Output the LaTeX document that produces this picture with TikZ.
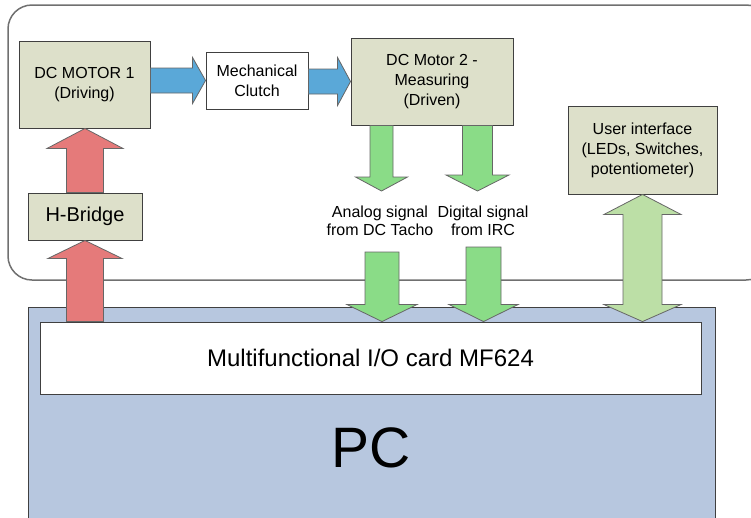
\documentclass[tikz,border=0pt]{standalone}
\usepackage{fontspec}
\setmainfont{Liberation Sans}
\usetikzlibrary{calc}
\definecolor{boxfill}{HTML}{DDE0CA}
\definecolor{boxline}{HTML}{404040}
\definecolor{pcfill}{HTML}{B7C7DF}
\definecolor{framec}{HTML}{707070}
\definecolor{redA}{HTML}{E57A7A}
\definecolor{blueA}{HTML}{5AA8D8}
\definecolor{greenA}{HTML}{8ADC87}
\definecolor{lgreenA}{HTML}{BCDFA6}
\newcommand\blkarrow[6]{%
  \coordinate (ba-t) at (#2); \coordinate (ba-h) at (#3);
  \coordinate (ba-b) at ($(ba-h)!#6!(ba-t)$);
  \draw[#1] ($(ba-t)!#4!90:(ba-h)$) -- ($(ba-b)!#4!90:(ba-h)$) -- ($(ba-b)!#5!90:(ba-h)$) -- (ba-h)
    -- ($(ba-b)!#5!-90:(ba-h)$) -- ($(ba-b)!#4!-90:(ba-h)$) -- ($(ba-t)!#4!-90:(ba-h)$) -- cycle;}
\newcommand\dblarrow[7]{%
  \coordinate (da-a) at (#2); \coordinate (da-z) at (#3);
  \coordinate (da-ab) at ($(da-a)!#6!(da-z)$);
  \coordinate (da-zb) at ($(da-z)!#7!(da-a)$);
  \draw[#1] (da-a) -- ($(da-ab)!#5!90:(da-z)$) -- ($(da-ab)!#4!90:(da-z)$) -- ($(da-zb)!#4!90:(da-z)$)
    -- ($(da-zb)!#5!90:(da-z)$) -- (da-z) -- ($(da-zb)!#5!-90:(da-z)$) -- ($(da-zb)!#4!-90:(da-z)$)
    -- ($(da-ab)!#4!-90:(da-z)$) -- ($(da-ab)!#5!-90:(da-z)$) -- cycle;}
\tikzset{
  box/.style={draw=boxline, fill=boxfill, line width=0.9pt, align=center, inner sep=0pt,
    font=\fontsize{16}{20}\selectfont},
  wbox/.style={box, fill=white},
  arr/.style={draw=boxline!80, line width=0.8pt, line join=miter},
  lbl/.style={align=center, inner sep=0pt, font=\fontsize{16}{18}\selectfont},
}
\begin{document}
\begin{tikzpicture}[x=1pt, y=-1pt]
\useasboundingbox (0,0) rectangle (751,517);
% frame
\draw[framec, line width=1.5pt, rounded corners=24pt] (8,5) rectangle (770,280);
% PC
\draw[boxline, fill=pcfill, line width=0.9pt] (28,307) rectangle (715,530);
\node[font=\fontsize{57}{57}\selectfont, inner sep=0pt] (pc) at (371,448) {PC};
\node[wbox, minimum width=661pt, minimum height=72pt, font=\fontsize{24}{28}\selectfont] (io) at (370.5,358) {Multifunctional I/O card MF624};
% boxes
\node[box, minimum width=131pt, minimum height=87pt] (m1) at (84.5,84.5) {DC MOTOR 1\\(Driving)};
\node[wbox, minimum width=102pt, minimum height=57pt] (cl) at (257,80.5) {Mechanical\\Clutch};
\node[box, minimum width=162pt, minimum height=87pt] (m2) at (432,81.5) {DC Motor 2 -\\Measuring\\(Driven)};
\node[box, minimum width=149pt, minimum height=88pt] (ui) at (642.5,150) {User interface\\(LEDs, Switches,\\potentiometer)};
\node[box, minimum width=114pt, minimum height=47pt, font=\fontsize{20}{24}\selectfont] (hb) at (85,216.5) {H-Bridge};
% labels
\node[lbl] (an) at (380,221) {Analog signal\\from DC Tacho};
\node[lbl] (dg) at (483,221) {Digital signal\\from IRC};
\coordinate (anUp) at (381.5,191);
\coordinate (anLo) at (382,252);
\coordinate (dgUp) at (477.5,191);
\coordinate (dgLo) at (483.5,247);
% arrows
\blkarrow{arr, fill=blueA}{m1.east |- cl.west}{cl.west}{12.5pt}{23pt}{13pt}
\blkarrow{arr, fill=blueA}{cl.east |- m2.west}{m2.west}{12.5pt}{24pt}{13pt}
\blkarrow{arr, fill=redA}{hb.north}{hb.north |- m1.south}{18.5pt}{38pt}{20pt}
\blkarrow{arr, fill=redA}{hb.south |- io.north}{hb.south}{18.5pt}{37pt}{18pt}
\blkarrow{arr, fill=greenA}{anUp |- m2.south}{anUp}{11.5pt}{26pt}{14pt}
\blkarrow{arr, fill=greenA}{dgUp |- m2.south}{dgUp}{15pt}{31.5pt}{16pt}
\blkarrow{arr, fill=greenA}{anLo}{anLo |- io.north}{17pt}{35pt}{17pt}
\blkarrow{arr, fill=greenA}{dgLo}{dgLo |- io.north}{17.5pt}{34.5pt}{17pt}
\dblarrow{arr, fill=lgreenA}{ui.south}{ui.south |- io.north}{19.5pt}{38.5pt}{20pt}{17pt}
\end{tikzpicture}
\end{document}
